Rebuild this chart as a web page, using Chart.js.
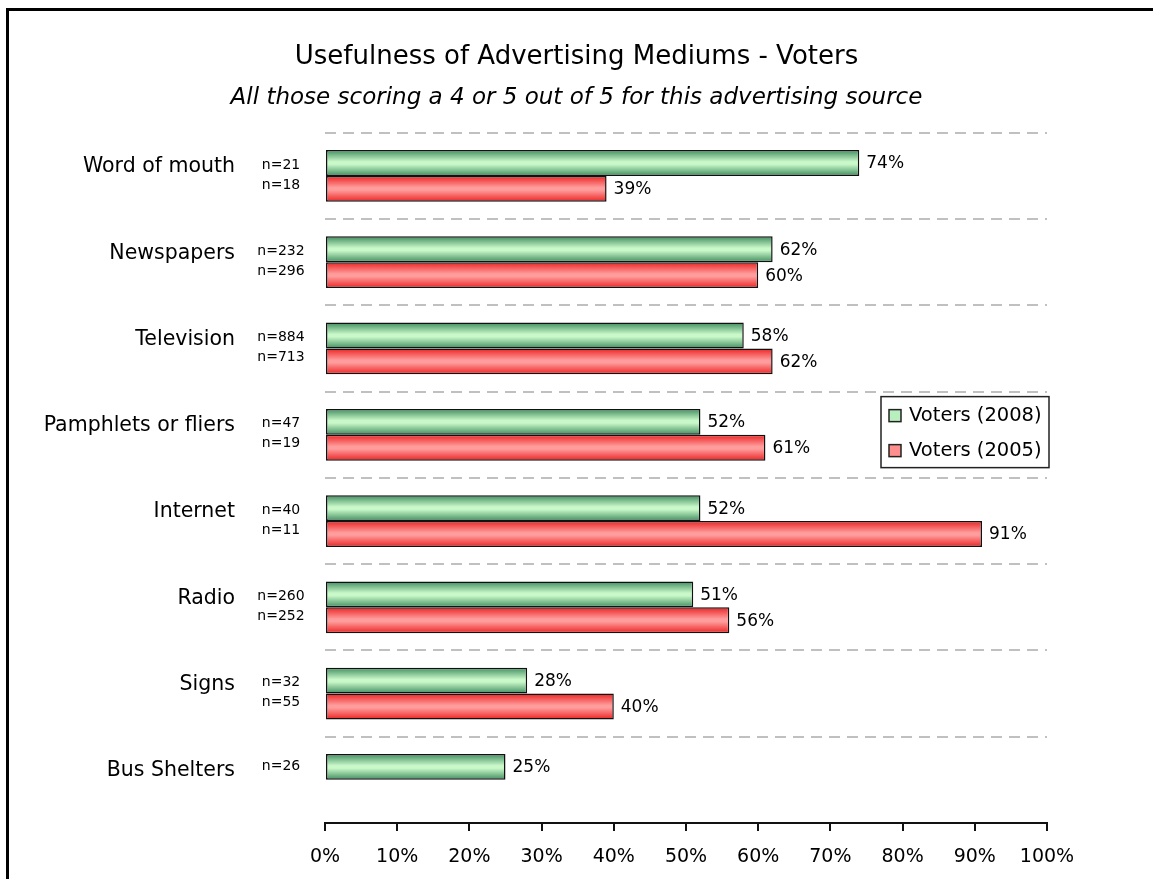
<!DOCTYPE html>
<html>
<head>
<meta charset="utf-8">
<title>Usefulness of Advertising Mediums - Voters</title>
<script src="https://cdn.jsdelivr.net/npm/chart.js@4.4.1/dist/chart.umd.min.js"></script>
<style>
  html, body { margin: 0; padding: 0; background: #fff; overflow: hidden; }
  #wrap { position: relative; width: 1153px; height: 879px; overflow: hidden; }
  #frame { position: absolute; left: 6px; top: 8px; width: 1170px; height: 900px;
           border: 3px solid #000; box-sizing: border-box; pointer-events: none; }
</style>
</head>
<body>
<div id="wrap">
  <canvas id="mediumsChart" width="1153" height="879"></canvas>
  <div id="frame"></div>
</div>
<script>
// Share of voters rating each medium 4 or 5 out of 5
const mediums = ['Word of mouth', 'Newspapers', 'Television', 'Pamphlets or fliers',
                 'Internet', 'Radio', 'Signs', 'Bus Shelters'];
const voters2008 = [74, 62, 58, 52, 52, 51, 28, 25];
const voters2005 = [39, 60, 62, 61, 91, 56, 40, null];
// sample sizes per medium
const sample2008 = [21, 232, 884, 47, 40, 260, 32, 26];
const sample2005 = [18, 296, 713, 19, 11, 252, 55, null];
const seriesNames = ['Voters (2008)', 'Voters (2005)'];

Chart.defaults.font.family = '"DejaVu Sans", Verdana, sans-serif';
Chart.defaults.color = '#000';

// vertical "tube" shading for each bar
function barShade(ctx, dark, light) {
  const chart = ctx.chart;
  const area = chart.chartArea;
  if (!area || ctx.type !== 'data') return light;
  const band = (area.bottom - area.top) / mediums.length;
  const h = band * 0.6 / 2;
  const mid = chart.scales.y.getPixelForValue(ctx.dataIndex);
  const top = ctx.datasetIndex === 0 ? mid - h : mid;
  const g = chart.ctx.createLinearGradient(0, top, 0, top + h);
  g.addColorStop(0, dark);
  g.addColorStop(0.45, light);
  g.addColorStop(0.55, light);
  g.addColorStop(1, dark);
  return g;
}

const barLabels = {
  id: 'barLabels',
  afterDatasetsDraw(chart) {
    const c = chart.ctx;
    c.save();
    c.fillStyle = '#000';
    c.textBaseline = 'middle';
    c.textAlign = 'left';
    c.font = '17px "DejaVu Sans"';
    chart.data.datasets.forEach((ds, di) => {
      chart.getDatasetMeta(di).data.forEach((bar, i) => {
        if (ds.data[i] == null) return;
        c.fillText(ds.data[i] + '%', bar.x + 7, bar.y + 1);
      });
    });
    // n= counts to the left of the bars
    c.font = '14px "DejaVu Sans"';
    c.textAlign = 'center';
    const x = chart.chartArea.left - 44;
    const m0 = chart.getDatasetMeta(0), m1 = chart.getDatasetMeta(1);
    mediums.forEach((_, i) => {
      const single = sample2005[i] == null;
      c.fillText('n=' + sample2008[i], x, m0.data[i].y + (single ? -1 : 2));
      if (!single) c.fillText('n=' + sample2005[i], x, m1.data[i].y - 4);
    });
    c.restore();
  }
};

const boxLegend = {
  id: 'boxLegend',
  afterDraw(chart) {
    const c = chart.ctx;
    const a = chart.chartArea;
    const band = (a.bottom - a.top) / mediums.length;
    const top = chart.scales.y.getPixelForValue(3) - band / 2 + 5;
    const w = 168, h = 71;
    const left = a.right + 2 - w;
    const swatches = ['#b9efbf', '#ff8e8e'];
    c.save();
    c.fillStyle = '#fff';
    c.fillRect(left, top, w, h);
    c.lineWidth = 1.5;
    c.strokeStyle = '#222';
    c.strokeRect(left, top, w, h);
    c.font = '19.5px "DejaVu Sans"';
    c.textBaseline = 'middle';
    c.textAlign = 'left';
    seriesNames.forEach((name, i) => {
      const cy = top + 19 + i * 35;
      c.fillStyle = swatches[i];
      c.fillRect(left + 8, cy - 6, 12, 12);
      c.lineWidth = 1.5;
      c.strokeStyle = '#222';
      c.strokeRect(left + 8, cy - 6, 12, 12);
      c.fillStyle = '#000';
      c.fillText(name, left + 28, cy);
    });
    c.restore();
  }
};

const ctx = document.getElementById('mediumsChart').getContext('2d');
const mediumsChart = new Chart(ctx, {
  type: 'bar',
  data: {
    labels: mediums,
    datasets: [{
      label: seriesNames[0],
      data: voters2008,
      backgroundColor: (c) => barShade(c, '#3f8c5e', '#c9f8c9'),
      borderColor: '#111',
      borderWidth: 1.5,
      borderSkipped: false
    }, {
      label: seriesNames[1],
      data: voters2005,
      backgroundColor: (c) => barShade(c, '#ec2323', '#ff9c9c'),
      borderColor: '#111',
      borderWidth: 1.5,
      borderSkipped: false
    }]
  },
  options: {
    indexAxis: 'y',
    responsive: false,
    animation: false,
    categoryPercentage: 0.6,
    barPercentage: 1.0,
    layout: { padding: 0 },
    plugins: {
      legend: { display: false },
      tooltip: { enabled: false },
      title: {
        display: true,
        text: 'Usefulness of Advertising Mediums - Voters',
        font: { size: 26, weight: 'normal' },
        padding: { top: 42, bottom: 11 }
      },
      subtitle: {
        display: true,
        text: 'All those scoring a 4 or 5 out of 5 for this advertising source',
        font: { size: 23, style: 'italic' },
        padding: { top: 0, bottom: 21 }
      }
    },
    scales: {
      x: {
        min: 0,
        max: 100,
        ticks: { stepSize: 10, padding: 15, font: { size: 19 }, callback: (v) => v + '%' },
        grid: { drawOnChartArea: false, tickLength: 8, color: '#111', lineWidth: 2 },
        border: { color: '#111', width: 2 },
        // room on the right of the plot, titles stay centred on the page
        afterFit(scale) { scale.height = 56; scale.paddingRight = 106; }
      },
      y: {
        ticks: { padding: 0, labelOffset: -9, font: { size: 20.5 } },
        grid: { color: '#c0c0c0', lineWidth: 2, drawTicks: true, tickLength: 90, tickColor: 'transparent' },
        border: { display: false, dash: [11, 7] },
        afterFit(scale) { scale.width = 325; }
      }
    }
  },
  plugins: [barLabels, boxLegend]
});
</script>
</body>
</html>
